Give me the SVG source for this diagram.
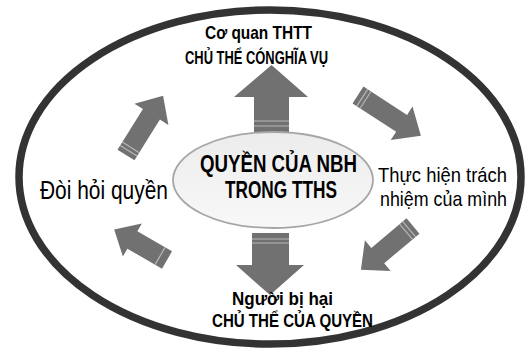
<svg xmlns="http://www.w3.org/2000/svg" width="526" height="349" viewBox="0 0 526 349">
<defs>
<linearGradient id="innerGrad" x1="0" y1="0" x2="0" y2="1">
<stop offset="0" stop-color="#ececec"/>
<stop offset="1" stop-color="#f8f8f8"/>
</linearGradient>
</defs>
<style>
.outer{fill:#ffffff;stroke:#333333;stroke-width:7.5}
.inner{fill:url(#innerGrad);stroke:#a6a6a6;stroke-width:1.8}
.arrow{fill:#717171}
.band{stroke:#b8b8b8;stroke-width:1.2;fill:none}
.tb{font-family:"Liberation Sans",Arial,sans-serif;font-weight:bold;fill:#000000}
.tn{font-family:"Liberation Sans",Arial,sans-serif;fill:#000000}
</style>
<rect width="526" height="349" fill="#ffffff"/>
<g id="outer-ellipse">
<ellipse class="outer" cx="270" cy="177" rx="251" ry="167"/>
</g>
<g id="connectors">
<g id="arrow-up">
<polygon class="arrow" points="254,132 254,97 234,97 271.5,65 308,97 289,97 289,132"/>
<line class="band" x1="254" y1="121" x2="289" y2="121"/>
<line class="band" x1="254" y1="126" x2="289" y2="126"/>
</g>
<g id="arrow-down">
<polygon class="arrow" points="252,233 289,233 289,265 304,265 270,295 236,265 252,265"/>
<line class="band" x1="252" y1="239" x2="289" y2="239"/>
<line class="band" x1="252" y1="243" x2="289" y2="243"/>
</g>
<g id="arrow-upper-left" transform="translate(126,155) rotate(-58)">
<polygon class="arrow" points="0,-10 48,-10 48,-20 70,0 48,20 48,10 0,10"/>
<line class="band" x1="5" y1="-10" x2="5" y2="10"/>
<line class="band" x1="9" y1="-10" x2="9" y2="10"/>
</g>
<g id="arrow-upper-right" transform="translate(358,95) rotate(33)">
<polygon class="arrow" points="0,-10 52,-10 52,-20 75,0 52,20 52,10 0,10"/>
<line class="band" x1="5" y1="-10" x2="5" y2="10"/>
<line class="band" x1="9" y1="-10" x2="9" y2="10"/>
</g>
<g id="arrow-lower-right" transform="translate(413,226) rotate(140)">
<polygon class="arrow" points="0,-10 46,-10 46,-20 68,0 46,20 46,10 0,10"/>
<line class="band" x1="5" y1="-10" x2="5" y2="10"/>
<line class="band" x1="9" y1="-10" x2="9" y2="10"/>
</g>
<g id="arrow-lower-left" transform="translate(167,260) rotate(210)">
<polygon class="arrow" points="0,-10 40,-10 40,-19 61,0 40,19 40,10 0,10"/>
<line class="band" x1="8" y1="-10" x2="8" y2="10"/>
</g>
</g>
<g id="center-node">
<ellipse class="inner" cx="273" cy="180" rx="100" ry="48"/>
<text class="tb" x="200" y="172" font-size="24" textLength="157" lengthAdjust="spacingAndGlyphs">QUYỀN CỦA NBH</text>
<text class="tb" x="225" y="198" font-size="24" textLength="112" lengthAdjust="spacingAndGlyphs">TRONG TTHS</text>
</g>
<g id="top-node">
<text class="tb" x="205" y="39" font-size="18.5" textLength="107" lengthAdjust="spacingAndGlyphs">Cơ quan THTT</text>
<text class="tb" x="185" y="64" font-size="18.5" textLength="143" lengthAdjust="spacingAndGlyphs">CHỦ THỂ CÓNGHĨA VỤ</text>
</g>
<g id="left-node">
<text class="tn" x="40" y="199" font-size="25" textLength="128" lengthAdjust="spacingAndGlyphs">Đòi hỏi quyền</text>
</g>
<g id="right-node">
<text class="tn" x="378" y="182" font-size="21" textLength="129" lengthAdjust="spacingAndGlyphs">Thực hiện trách</text>
<text class="tn" x="380" y="206" font-size="21" textLength="127" lengthAdjust="spacingAndGlyphs">nhiệm của mình</text>
</g>
<g id="bottom-node">
<text class="tb" x="232" y="305" font-size="18.5" textLength="101" lengthAdjust="spacingAndGlyphs">Người bị hại</text>
<text class="tb" x="212" y="327" font-size="18.5" textLength="161" lengthAdjust="spacingAndGlyphs">CHỦ THỂ CỦA QUYỀN</text>
</g>
</svg>
